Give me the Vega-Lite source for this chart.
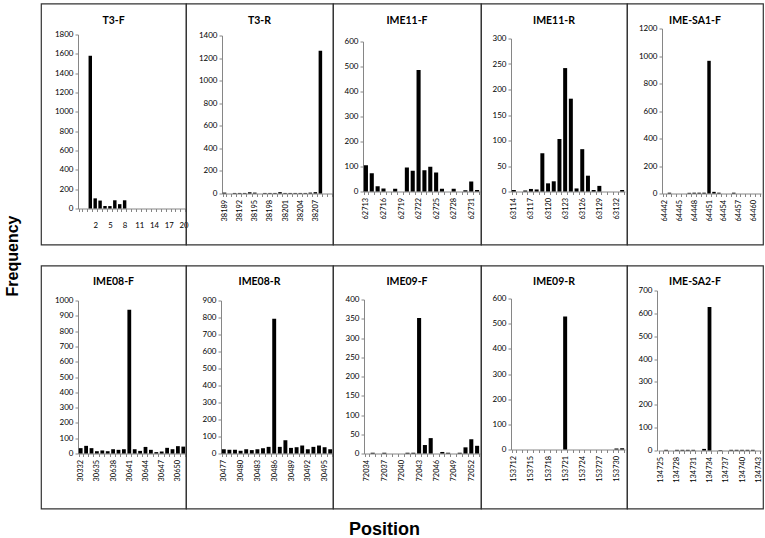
{
  "$schema": "https://vega.github.io/schema/vega-lite/v6.json",
  "background": "white",
  "padding": {"left": 5, "top": 2.5, "right": 2, "bottom": 2},
  "config": {
    "view": {"stroke": "#333333", "strokeWidth": 1.2},
    "bar": {"color": "#000000"},
    "axis": {"domainColor": "#868686", "tickColor": "#868686", "tickSize": 3, "labelFont": "Lato", "labelFontSize": 8, "labelColor": "#000000", "grid": false, "labelOverlap": false, "labelBound": false},
    "axisX": {"tickBand": "extent", "labelAngle": -90, "labelFontSize": 7.4, "labelPadding": 3},
    "axisY": {"labelPadding": 2}
  },
  "data": {"values": [
    {"panel": "T3-F", "pos": "1", "freq": 1580}, {"panel": "T3-F", "pos": "2", "freq": 105}, {"panel": "T3-F", "pos": "3", "freq": 82}, {"panel": "T3-F", "pos": "4", "freq": 25}, {"panel": "T3-F", "pos": "5", "freq": 25}, {"panel": "T3-F", "pos": "6", "freq": 85}, {"panel": "T3-F", "pos": "7", "freq": 45}, {"panel": "T3-F", "pos": "8", "freq": 85}, {"panel": "T3-F", "pos": "9", "freq": 0}, {"panel": "T3-F", "pos": "10", "freq": 0}, {"panel": "T3-F", "pos": "11", "freq": 0}, {"panel": "T3-F", "pos": "12", "freq": 0}, {"panel": "T3-F", "pos": "13", "freq": 0}, {"panel": "T3-F", "pos": "14", "freq": 0}, {"panel": "T3-F", "pos": "15", "freq": 0}, {"panel": "T3-F", "pos": "16", "freq": 0}, {"panel": "T3-F", "pos": "17", "freq": 0}, {"panel": "T3-F", "pos": "18", "freq": 0}, {"panel": "T3-F", "pos": "19", "freq": 0}, {"panel": "T3-F", "pos": "20", "freq": 0},

    {"panel": "T3-R", "pos": "38189", "freq": 8}, {"panel": "T3-R", "pos": "38190", "freq": 0}, {"panel": "T3-R", "pos": "38191", "freq": 5}, {"panel": "T3-R", "pos": "38192", "freq": 5}, {"panel": "T3-R", "pos": "38193", "freq": 5}, {"panel": "T3-R", "pos": "38194", "freq": 12}, {"panel": "T3-R", "pos": "38195", "freq": 8}, {"panel": "T3-R", "pos": "38196", "freq": 0}, {"panel": "T3-R", "pos": "38197", "freq": 5}, {"panel": "T3-R", "pos": "38198", "freq": 5}, {"panel": "T3-R", "pos": "38199", "freq": 5}, {"panel": "T3-R", "pos": "38200", "freq": 12}, {"panel": "T3-R", "pos": "38201", "freq": 5}, {"panel": "T3-R", "pos": "38202", "freq": 5}, {"panel": "T3-R", "pos": "38203", "freq": 5}, {"panel": "T3-R", "pos": "38204", "freq": 5}, {"panel": "T3-R", "pos": "38205", "freq": 5}, {"panel": "T3-R", "pos": "38206", "freq": 8}, {"panel": "T3-R", "pos": "38207", "freq": 12}, {"panel": "T3-R", "pos": "38208", "freq": 1265}, {"panel": "T3-R", "pos": "38209", "freq": 0}, {"panel": "T3-R", "pos": "38210", "freq": 0},

    {"panel": "IME11-F", "pos": "62713", "freq": 105}, {"panel": "IME11-F", "pos": "62714", "freq": 73}, {"panel": "IME11-F", "pos": "62715", "freq": 21}, {"panel": "IME11-F", "pos": "62716", "freq": 12}, {"panel": "IME11-F", "pos": "62717", "freq": 0}, {"panel": "IME11-F", "pos": "62718", "freq": 11}, {"panel": "IME11-F", "pos": "62719", "freq": 0}, {"panel": "IME11-F", "pos": "62720", "freq": 96}, {"panel": "IME11-F", "pos": "62721", "freq": 83}, {"panel": "IME11-F", "pos": "62722", "freq": 486}, {"panel": "IME11-F", "pos": "62723", "freq": 85}, {"panel": "IME11-F", "pos": "62724", "freq": 99}, {"panel": "IME11-F", "pos": "62725", "freq": 76}, {"panel": "IME11-F", "pos": "62726", "freq": 11}, {"panel": "IME11-F", "pos": "62727", "freq": 0}, {"panel": "IME11-F", "pos": "62728", "freq": 11}, {"panel": "IME11-F", "pos": "62729", "freq": 0}, {"panel": "IME11-F", "pos": "62730", "freq": 5}, {"panel": "IME11-F", "pos": "62731", "freq": 40}, {"panel": "IME11-F", "pos": "62732", "freq": 6},

    {"panel": "IME11-R", "pos": "63114", "freq": 3}, {"panel": "IME11-R", "pos": "63115", "freq": 0}, {"panel": "IME11-R", "pos": "63116", "freq": 2}, {"panel": "IME11-R", "pos": "63117", "freq": 5}, {"panel": "IME11-R", "pos": "63118", "freq": 4}, {"panel": "IME11-R", "pos": "63119", "freq": 75}, {"panel": "IME11-R", "pos": "63120", "freq": 16}, {"panel": "IME11-R", "pos": "63121", "freq": 20}, {"panel": "IME11-R", "pos": "63122", "freq": 103}, {"panel": "IME11-R", "pos": "63123", "freq": 242}, {"panel": "IME11-R", "pos": "63124", "freq": 182}, {"panel": "IME11-R", "pos": "63125", "freq": 6}, {"panel": "IME11-R", "pos": "63126", "freq": 83}, {"panel": "IME11-R", "pos": "63127", "freq": 31}, {"panel": "IME11-R", "pos": "63128", "freq": 3}, {"panel": "IME11-R", "pos": "63129", "freq": 11}, {"panel": "IME11-R", "pos": "63130", "freq": 0}, {"panel": "IME11-R", "pos": "63131", "freq": 0}, {"panel": "IME11-R", "pos": "63132", "freq": 0}, {"panel": "IME11-R", "pos": "63133", "freq": 3},

    {"panel": "IME-SA1-F", "pos": "64442", "freq": 0}, {"panel": "IME-SA1-F", "pos": "64443", "freq": 6}, {"panel": "IME-SA1-F", "pos": "64444", "freq": 0}, {"panel": "IME-SA1-F", "pos": "64445", "freq": 0}, {"panel": "IME-SA1-F", "pos": "64446", "freq": 0}, {"panel": "IME-SA1-F", "pos": "64447", "freq": 5}, {"panel": "IME-SA1-F", "pos": "64448", "freq": 6}, {"panel": "IME-SA1-F", "pos": "64449", "freq": 6}, {"panel": "IME-SA1-F", "pos": "64450", "freq": 6}, {"panel": "IME-SA1-F", "pos": "64451", "freq": 965}, {"panel": "IME-SA1-F", "pos": "64452", "freq": 12}, {"panel": "IME-SA1-F", "pos": "64453", "freq": 6}, {"panel": "IME-SA1-F", "pos": "64454", "freq": 0}, {"panel": "IME-SA1-F", "pos": "64455", "freq": 0}, {"panel": "IME-SA1-F", "pos": "64456", "freq": 6}, {"panel": "IME-SA1-F", "pos": "64457", "freq": 0}, {"panel": "IME-SA1-F", "pos": "64458", "freq": 0}, {"panel": "IME-SA1-F", "pos": "64459", "freq": 0}, {"panel": "IME-SA1-F", "pos": "64460", "freq": 0}, {"panel": "IME-SA1-F", "pos": "64461", "freq": 0},

    {"panel": "IME08-F", "pos": "30332", "freq": 35}, {"panel": "IME08-F", "pos": "30633", "freq": 50}, {"panel": "IME08-F", "pos": "30634", "freq": 35}, {"panel": "IME08-F", "pos": "30635", "freq": 15}, {"panel": "IME08-F", "pos": "30636", "freq": 20}, {"panel": "IME08-F", "pos": "30637", "freq": 15}, {"panel": "IME08-F", "pos": "30638", "freq": 28}, {"panel": "IME08-F", "pos": "30639", "freq": 24}, {"panel": "IME08-F", "pos": "30640", "freq": 28}, {"panel": "IME08-F", "pos": "30641", "freq": 940}, {"panel": "IME08-F", "pos": "30642", "freq": 28}, {"panel": "IME08-F", "pos": "30643", "freq": 17}, {"panel": "IME08-F", "pos": "30644", "freq": 43}, {"panel": "IME08-F", "pos": "30645", "freq": 24}, {"panel": "IME08-F", "pos": "30646", "freq": 9}, {"panel": "IME08-F", "pos": "30647", "freq": 13}, {"panel": "IME08-F", "pos": "30648", "freq": 37}, {"panel": "IME08-F", "pos": "30649", "freq": 28}, {"panel": "IME08-F", "pos": "30650", "freq": 48}, {"panel": "IME08-F", "pos": "30651", "freq": 45},

    {"panel": "IME08-R", "pos": "30477", "freq": 25}, {"panel": "IME08-R", "pos": "30478", "freq": 22}, {"panel": "IME08-R", "pos": "30479", "freq": 22}, {"panel": "IME08-R", "pos": "30480", "freq": 16}, {"panel": "IME08-R", "pos": "30481", "freq": 25}, {"panel": "IME08-R", "pos": "30482", "freq": 20}, {"panel": "IME08-R", "pos": "30483", "freq": 25}, {"panel": "IME08-R", "pos": "30484", "freq": 31}, {"panel": "IME08-R", "pos": "30485", "freq": 39}, {"panel": "IME08-R", "pos": "30486", "freq": 793}, {"panel": "IME08-R", "pos": "30487", "freq": 39}, {"panel": "IME08-R", "pos": "30488", "freq": 78}, {"panel": "IME08-R", "pos": "30489", "freq": 33}, {"panel": "IME08-R", "pos": "30490", "freq": 37}, {"panel": "IME08-R", "pos": "30491", "freq": 47}, {"panel": "IME08-R", "pos": "30492", "freq": 25}, {"panel": "IME08-R", "pos": "30493", "freq": 39}, {"panel": "IME08-R", "pos": "30494", "freq": 47}, {"panel": "IME08-R", "pos": "30495", "freq": 37}, {"panel": "IME08-R", "pos": "30496", "freq": 25},

    {"panel": "IME09-F", "pos": "72034", "freq": 0}, {"panel": "IME09-F", "pos": "72035", "freq": 2}, {"panel": "IME09-F", "pos": "72036", "freq": 0}, {"panel": "IME09-F", "pos": "72037", "freq": 2}, {"panel": "IME09-F", "pos": "72038", "freq": 0}, {"panel": "IME09-F", "pos": "72039", "freq": 0}, {"panel": "IME09-F", "pos": "72040", "freq": 0}, {"panel": "IME09-F", "pos": "72041", "freq": 2}, {"panel": "IME09-F", "pos": "72042", "freq": 2}, {"panel": "IME09-F", "pos": "72043", "freq": 352}, {"panel": "IME09-F", "pos": "72044", "freq": 22}, {"panel": "IME09-F", "pos": "72045", "freq": 40}, {"panel": "IME09-F", "pos": "72046", "freq": 0}, {"panel": "IME09-F", "pos": "72047", "freq": 4}, {"panel": "IME09-F", "pos": "72048", "freq": 2}, {"panel": "IME09-F", "pos": "72049", "freq": 0}, {"panel": "IME09-F", "pos": "72050", "freq": 2}, {"panel": "IME09-F", "pos": "72051", "freq": 16}, {"panel": "IME09-F", "pos": "72052", "freq": 37}, {"panel": "IME09-F", "pos": "72053", "freq": 20},

    {"panel": "IME09-R", "pos": "153712", "freq": 0}, {"panel": "IME09-R", "pos": "153713", "freq": 0}, {"panel": "IME09-R", "pos": "153714", "freq": 0}, {"panel": "IME09-R", "pos": "153715", "freq": 0}, {"panel": "IME09-R", "pos": "153716", "freq": 0}, {"panel": "IME09-R", "pos": "153717", "freq": 0}, {"panel": "IME09-R", "pos": "153718", "freq": 0}, {"panel": "IME09-R", "pos": "153719", "freq": 0}, {"panel": "IME09-R", "pos": "153720", "freq": 0}, {"panel": "IME09-R", "pos": "153721", "freq": 528}, {"panel": "IME09-R", "pos": "153722", "freq": 0}, {"panel": "IME09-R", "pos": "153723", "freq": 0}, {"panel": "IME09-R", "pos": "153724", "freq": 0}, {"panel": "IME09-R", "pos": "153725", "freq": 0}, {"panel": "IME09-R", "pos": "153726", "freq": 0}, {"panel": "IME09-R", "pos": "153727", "freq": 0}, {"panel": "IME09-R", "pos": "153728", "freq": 0}, {"panel": "IME09-R", "pos": "153729", "freq": 0}, {"panel": "IME09-R", "pos": "153730", "freq": 4}, {"panel": "IME09-R", "pos": "153731", "freq": 5},

    {"panel": "IME-SA2-F", "pos": "134725", "freq": 0}, {"panel": "IME-SA2-F", "pos": "134726", "freq": 3}, {"panel": "IME-SA2-F", "pos": "134727", "freq": 0}, {"panel": "IME-SA2-F", "pos": "134728", "freq": 3}, {"panel": "IME-SA2-F", "pos": "134729", "freq": 3}, {"panel": "IME-SA2-F", "pos": "134730", "freq": 3}, {"panel": "IME-SA2-F", "pos": "134731", "freq": 3}, {"panel": "IME-SA2-F", "pos": "134732", "freq": 0}, {"panel": "IME-SA2-F", "pos": "134733", "freq": 7}, {"panel": "IME-SA2-F", "pos": "134734", "freq": 628}, {"panel": "IME-SA2-F", "pos": "134735", "freq": 0}, {"panel": "IME-SA2-F", "pos": "134736", "freq": 2}, {"panel": "IME-SA2-F", "pos": "134737", "freq": 0}, {"panel": "IME-SA2-F", "pos": "134738", "freq": 3}, {"panel": "IME-SA2-F", "pos": "134739", "freq": 3}, {"panel": "IME-SA2-F", "pos": "134740", "freq": 3}, {"panel": "IME-SA2-F", "pos": "134741", "freq": 3}, {"panel": "IME-SA2-F", "pos": "134742", "freq": 3}, {"panel": "IME-SA2-F", "pos": "134743", "freq": 0}
  ]},
  "title": {"text": "Position", "orient": "bottom", "font": "Liberation Sans", "fontSize": 18, "fontWeight": "bold", "color": "#000000", "offset": 12, "anchor": "middle"},
  "hconcat": [
    {
      "title": {"text": "Frequency", "orient": "left", "font": "Liberation Sans", "fontSize": 16, "fontWeight": "bold", "color": "#000000", "offset": 15, "anchor": "middle"},
      "spacing": 19,
      "vconcat": [
        {
          "spacing": 0,
          "bounds": "flush",
          "hconcat": [
            {
              "width": 145, "height": 241,
              "title": {"text": "T3-F", "font": "Lato", "fontSize": 10.5, "fontWeight": "bold", "color": "#000000", "offset": -31, "baseline": "alphabetic", "frame": "group", "anchor": "middle"},
              "transform": [{"filter": "datum.panel == 'T3-F'"}],
              "mark": {"type": "bar"},
              "encoding": {
                "x": {"field": "pos", "type": "ordinal", "title": null,
                  "scale": {"domain": ["-1", "0", "1", "2", "3", "4", "5", "6", "7", "8", "9", "10", "11", "12", "13", "14", "15", "16", "17", "18", "19", "20"], "range": [37, 145], "paddingInner": 0.3, "paddingOuter": 0.15},
                  "axis": {"offset": -36, "labelAngle": 0, "labelFontSize": 7.8, "labelPadding": 10, "labelExpr": "toNumber(datum.value) >= 2 && (toNumber(datum.value) - 2) % 3 == 0 ? datum.label : ''"}},
                "y": {"field": "freq", "type": "quantitative", "title": null,
                  "scale": {"domain": [0, 1800], "range": [205, 31], "nice": false},
                  "axis": {"offset": -37, "format": "d", "values": [0, 200, 400, 600, 800, 1000, 1200, 1400, 1600, 1800]}}
              }
            },
            {
              "width": 147, "height": 241,
              "title": {"text": "T3-R", "font": "Lato", "fontSize": 10.5, "fontWeight": "bold", "color": "#000000", "offset": -31, "baseline": "alphabetic", "frame": "group", "anchor": "middle"},
              "transform": [{"filter": "datum.panel == 'T3-R'"}],
              "mark": {"type": "bar"},
              "encoding": {
                "x": {"field": "pos", "type": "ordinal", "title": null,
                  "scale": {"range": [36, 147], "paddingInner": 0.3, "paddingOuter": 0.15},
                  "axis": {"offset": -51, "labelExpr": "toNumber(datum.value) <= 38207 && (toNumber(datum.value) - 38189) % 3 == 0 ? datum.label : ''"}},
                "y": {"field": "freq", "type": "quantitative", "title": null,
                  "scale": {"domain": [0, 1400], "range": [190, 32], "nice": false},
                  "axis": {"offset": -36, "format": "d", "values": [0, 200, 400, 600, 800, 1000, 1200, 1400]}}
              }
            },
            {
              "width": 148, "height": 241,
              "title": {"text": "IME11-F", "font": "Lato", "fontSize": 10.5, "fontWeight": "bold", "color": "#000000", "offset": -31, "baseline": "alphabetic", "frame": "group", "anchor": "middle"},
              "transform": [{"filter": "datum.panel == 'IME11-F'"}],
              "mark": {"type": "bar"},
              "encoding": {
                "x": {"field": "pos", "type": "ordinal", "title": null,
                  "scale": {"range": [30, 147], "paddingInner": 0.3, "paddingOuter": 0.15},
                  "axis": {"offset": -53, "labelExpr": "(toNumber(datum.value) - 62713) % 3 == 0 ? datum.label : ''"}},
                "y": {"field": "freq", "type": "quantitative", "title": null,
                  "scale": {"domain": [0, 600], "range": [188, 38], "nice": false},
                  "axis": {"offset": -30, "format": "d", "values": [0, 100, 200, 300, 400, 500, 600]}}
              }
            },
            {
              "width": 146, "height": 241,
              "title": {"text": "IME11-R", "font": "Lato", "fontSize": 10.5, "fontWeight": "bold", "color": "#000000", "offset": -31, "baseline": "alphabetic", "frame": "group", "anchor": "middle"},
              "transform": [{"filter": "datum.panel == 'IME11-R'"}],
              "mark": {"type": "bar"},
              "encoding": {
                "x": {"field": "pos", "type": "ordinal", "title": null,
                  "scale": {"range": [30, 144], "paddingInner": 0.3, "paddingOuter": 0.15},
                  "axis": {"offset": -53, "labelExpr": "(toNumber(datum.value) - 63114) % 3 == 0 ? datum.label : ''"}},
                "y": {"field": "freq", "type": "quantitative", "title": null,
                  "scale": {"domain": [0, 300], "range": [188, 35], "nice": false},
                  "axis": {"offset": -30, "format": "d", "values": [0, 50, 100, 150, 200, 250, 300]}}
              }
            },
            {
              "width": 136, "height": 241,
              "title": {"text": "IME-SA1-F", "font": "Lato", "fontSize": 10.5, "fontWeight": "bold", "color": "#000000", "offset": -31, "baseline": "alphabetic", "frame": "group", "anchor": "middle"},
              "transform": [{"filter": "datum.panel == 'IME-SA1-F'"}],
              "mark": {"type": "bar"},
              "encoding": {
                "x": {"field": "pos", "type": "ordinal", "title": null,
                  "scale": {"range": [35, 134], "paddingInner": 0.3, "paddingOuter": 0.15},
                  "axis": {"offset": -51, "labelExpr": "(toNumber(datum.value) - 64442) % 3 == 0 ? datum.label : ''"}},
                "y": {"field": "freq", "type": "quantitative", "title": null,
                  "scale": {"domain": [0, 1200], "range": [190, 25], "nice": false},
                  "axis": {"offset": -35, "format": "d", "values": [0, 200, 400, 600, 800, 1000, 1200]}}
              }
            }
          ]
        },
        {
          "spacing": 0,
          "bounds": "flush",
          "hconcat": [
            {
              "width": 145, "height": 243,
              "title": {"text": "IME08-F", "font": "Lato", "fontSize": 10.5, "fontWeight": "bold", "color": "#000000", "offset": -30, "baseline": "alphabetic", "frame": "group", "anchor": "middle"},
              "transform": [{"filter": "datum.panel == 'IME08-F'"}],
              "mark": {"type": "bar"},
              "encoding": {
                "x": {"field": "pos", "type": "ordinal", "title": null,
                  "scale": {"range": [37, 145], "paddingInner": 0.3, "paddingOuter": 0.15},
                  "axis": {"offset": -55, "labelExpr": "(toNumber(datum.value) - 30332) % 3 == 0 ? datum.label : ''"}},
                "y": {"field": "freq", "type": "quantitative", "title": null,
                  "scale": {"domain": [0, 1000], "range": [188, 35], "nice": false},
                  "axis": {"offset": -37, "format": "d", "values": [0, 100, 200, 300, 400, 500, 600, 700, 800, 900, 1000]}}
              }
            },
            {
              "width": 147, "height": 243,
              "title": {"text": "IME08-R", "font": "Lato", "fontSize": 10.5, "fontWeight": "bold", "color": "#000000", "offset": -30, "baseline": "alphabetic", "frame": "group", "anchor": "middle"},
              "transform": [{"filter": "datum.panel == 'IME08-R'"}],
              "mark": {"type": "bar"},
              "encoding": {
                "x": {"field": "pos", "type": "ordinal", "title": null,
                  "scale": {"range": [35, 147], "paddingInner": 0.3, "paddingOuter": 0.15},
                  "axis": {"offset": -55, "labelExpr": "(toNumber(datum.value) - 30477) % 3 == 0 ? datum.label : ''"}},
                "y": {"field": "freq", "type": "quantitative", "title": null,
                  "scale": {"domain": [0, 900], "range": [188, 35], "nice": false},
                  "axis": {"offset": -35, "format": "d", "values": [0, 100, 200, 300, 400, 500, 600, 700, 800, 900]}}
              }
            },
            {
              "width": 148, "height": 243,
              "title": {"text": "IME09-F", "font": "Lato", "fontSize": 10.5, "fontWeight": "bold", "color": "#000000", "offset": -30, "baseline": "alphabetic", "frame": "group", "anchor": "middle"},
              "transform": [{"filter": "datum.panel == 'IME09-F'"}],
              "mark": {"type": "bar"},
              "encoding": {
                "x": {"field": "pos", "type": "ordinal", "title": null,
                  "scale": {"range": [31, 147], "paddingInner": 0.3, "paddingOuter": 0.15},
                  "axis": {"offset": -55, "labelExpr": "(toNumber(datum.value) - 72034) % 3 == 0 ? datum.label : ''"}},
                "y": {"field": "freq", "type": "quantitative", "title": null,
                  "scale": {"domain": [0, 400], "range": [188, 34], "nice": false},
                  "axis": {"offset": -31, "format": "d", "values": [0, 50, 100, 150, 200, 250, 300, 350, 400]}}
              }
            },
            {
              "width": 146, "height": 243,
              "title": {"text": "IME09-R", "font": "Lato", "fontSize": 10.5, "fontWeight": "bold", "color": "#000000", "offset": -30, "baseline": "alphabetic", "frame": "group", "anchor": "middle"},
              "transform": [{"filter": "datum.panel == 'IME09-R'"}],
              "mark": {"type": "bar"},
              "encoding": {
                "x": {"field": "pos", "type": "ordinal", "title": null,
                  "scale": {"range": [30, 144], "paddingInner": 0.3, "paddingOuter": 0.15},
                  "axis": {"offset": -59, "labelExpr": "(toNumber(datum.value) - 153712) % 3 == 0 ? datum.label : ''"}},
                "y": {"field": "freq", "type": "quantitative", "title": null,
                  "scale": {"domain": [0, 600], "range": [184, 33], "nice": false},
                  "axis": {"offset": -30, "format": "d", "values": [0, 100, 200, 300, 400, 500, 600]}}
              }
            },
            {
              "width": 136, "height": 243,
              "title": {"text": "IME-SA2-F", "font": "Lato", "fontSize": 10.5, "fontWeight": "bold", "color": "#000000", "offset": -30, "baseline": "alphabetic", "frame": "group", "anchor": "middle"},
              "transform": [{"filter": "datum.panel == 'IME-SA2-F'"}],
              "mark": {"type": "bar"},
              "encoding": {
                "x": {"field": "pos", "type": "ordinal", "title": null,
                  "scale": {"range": [31, 134], "paddingInner": 0.3, "paddingOuter": 0.15},
                  "axis": {"offset": -58, "labelExpr": "(toNumber(datum.value) - 134725) % 3 == 0 ? datum.label : ''"}},
                "y": {"field": "freq", "type": "quantitative", "title": null,
                  "scale": {"domain": [0, 700], "range": [185, 25], "nice": false},
                  "axis": {"offset": -30, "format": "d", "values": [0, 100, 200, 300, 400, 500, 600, 700]}}
              }
            }
          ]
        }
      ]
    }
  ]
}
